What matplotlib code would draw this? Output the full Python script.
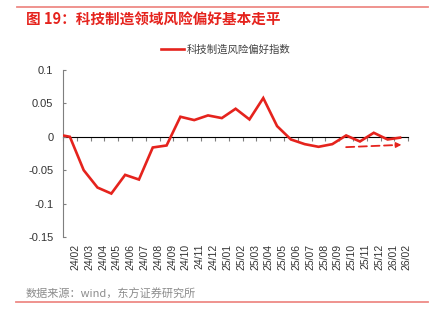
import numpy as np
import matplotlib
matplotlib.use("Agg")
import matplotlib.pyplot as plt
import matplotlib.transforms as mtransforms
from matplotlib.lines import Line2D

# Monthly risk-appetite index for the tech-manufacturing sector
months = ["24/02", "24/03", "24/04", "24/05", "24/06", "24/07", "24/08", "24/09",
          "24/10", "24/11", "24/12", "25/01", "25/02", "25/03", "25/04", "25/05",
          "25/06", "25/07", "25/08", "25/09", "25/10", "25/11", "25/12", "26/01",
          "26/02"]
index_values = [0.000, -0.050, -0.076, -0.085, -0.057, -0.064, -0.016, -0.013,
                0.030, 0.025, 0.032, 0.028, 0.042, 0.026, 0.058, 0.016,
                -0.004, -0.011, -0.015, -0.011, 0.002, -0.007, 0.006, -0.004,
                -0.001]
opening_value = 0.002          # reading carried in from the prior period
series_name = "科技制造风险偏好指数"
title_text = "图 19：科技制造领域风险偏好基本走平"
source_text = "数据来源：wind，东方证券研究所"

y_ticks = [0.1, 0.05, 0, -0.05, -0.1, -0.15]
y_tick_labels = ["0.1", "0.05", "0", "-0.05", "-0.1", "-0.15"]

# Dashed trend arrow: (month, value) at start and end
trend_start = ("25/10", -0.0155)
trend_end = ("26/02", -0.012)

RED = "#E5231D"
AXIS_GRAY = "#7F7F7F"
TEXT_DARK = "#333333"
CJK = ["Noto Sans CJK SC", "DejaVu Sans"]
LATIN = ["Liberation Sans", "DejaVu Sans"]

fig = plt.figure(figsize=(4.47, 3.23), dpi=100)
ax = fig.add_axes([0.1409, 0.2663, 0.7725, 0.5170])

n = len(months)
xpos = np.arange(n)
x_left = -0.5
x_right = n - 0.5

line_x = np.concatenate([[x_left], xpos])
line_y = [opening_value] + index_values
ax.plot(line_x, line_y, color=RED, lw=1.9, solid_joinstyle="miter",
        solid_capstyle="butt", zorder=3)

ax.set_xlim(x_left, x_right)
ax.set_ylim(-0.15, 0.1)

# y axis
ax.set_yticks(y_ticks)
ax.set_yticklabels(y_tick_labels, fontfamily=LATIN, fontsize=8, color=TEXT_DARK)
ax.tick_params(axis="y", direction="in", length=2.5, width=0.8,
               color=AXIS_GRAY, pad=7)
for side in ("top", "right", "bottom"):
    ax.spines[side].set_visible(False)
ax.spines["left"].set_color(AXIS_GRAY)
ax.spines["left"].set_linewidth(0.8)

# month labels along the bottom edge
ax.set_xticks(xpos)
ax.set_xticklabels(months, rotation=90, fontfamily=LATIN, fontsize=7.5,
                   color=TEXT_DARK)
ax.tick_params(axis="x", length=0, pad=5)
shift = mtransforms.ScaledTranslation(5.5 / 100, 0, fig.dpi_scale_trans)
for lbl in ax.get_xticklabels():
    lbl.set_transform(lbl.get_transform() + shift)

# category axis line at zero with boundary ticks
zero_frac = (0 - (-0.15)) / (0.1 - (-0.15))
sec = ax.secondary_xaxis(zero_frac)
sec.set_xticks(np.arange(x_left, x_right + 0.01, 1.0))
sec.set_xticklabels([])
sec.tick_params(direction="in", length=3, width=0.8, color=AXIS_GRAY)
sec.spines["bottom"].set_color(AXIS_GRAY)
sec.spines["bottom"].set_linewidth(0.8)

# dashed trend arrow
i0 = months.index(trend_start[0])
i1 = months.index(trend_end[0])
ax.annotate("", xy=(i1, trend_end[1]), xytext=(i0, trend_start[1]),
            arrowprops=dict(arrowstyle="-", color=RED, lw=1.3,
                            linestyle=(0, (4.5, 2.5)), shrinkA=0, shrinkB=5),
            zorder=4)
ax.annotate("", xy=(i1, trend_end[1]), xytext=(i1 - 0.45, trend_end[1] - 0.0003),
            arrowprops=dict(arrowstyle="-|>", color=RED, lw=1.0,
                            mutation_scale=8, shrinkA=0, shrinkB=0),
            zorder=4)

# legend
handle = Line2D([], [], color=RED, lw=1.9)
leg = fig.legend([handle], [series_name], loc="center",
                 bbox_to_anchor=(0.505, 1 - 50 / 323), frameon=False,
                 prop={"family": CJK, "size": 7.5}, handlelength=2.2,
                 handletextpad=0.2, borderpad=0)
for t in leg.get_texts():
    t.set_color("#404040")

# header: rule and title
fig.add_artist(Line2D([17 / 447, 428 / 447], [1 - 7.3 / 323] * 2,
                      color="#EE8A86", lw=1.3, transform=fig.transFigure))
fig.text(26 / 447, 1 - 20 / 323, title_text, fontfamily=CJK, fontsize=10.5,
         fontweight="bold", color=RED, va="center", ha="left")

# footer: source and rule
fig.text(26 / 447, 1 - 294 / 323, source_text, fontfamily=CJK, fontsize=8,
         color="#8C8C8C", va="center", ha="left")
fig.add_artist(Line2D([16 / 447, 428 / 447], [1 - 302 / 323] * 2,
                      color="#EE8A86", lw=1.3, transform=fig.transFigure))

fig.savefig("out.png", dpi=100)
